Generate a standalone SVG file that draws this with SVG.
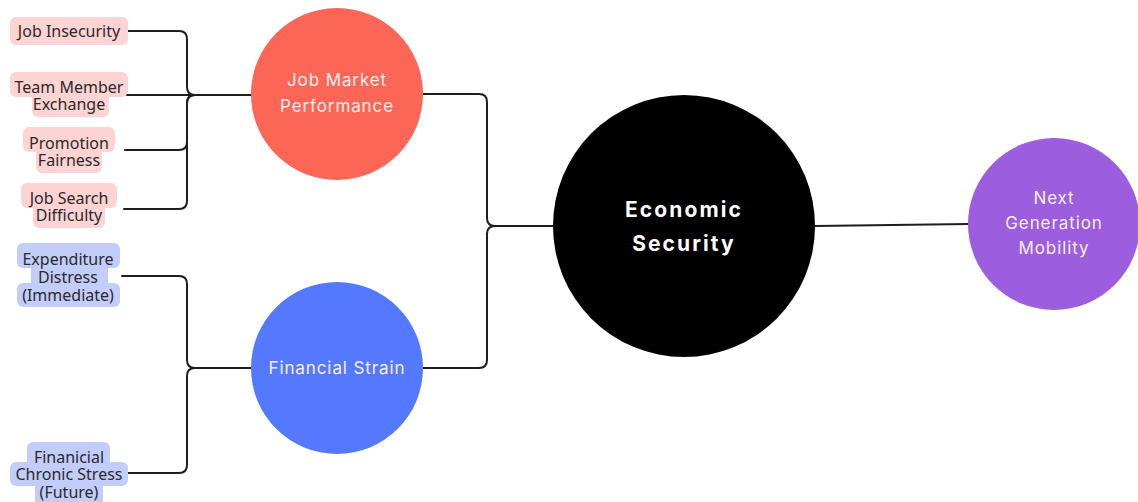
<svg xmlns="http://www.w3.org/2000/svg" width="1138" height="502" viewBox="0 0 1138 502">
  <style>
    .bg { fill: #ffffff; }
    .wire { fill: none; stroke: #1e1e1e; stroke-width: 2; stroke-linejoin: round; stroke-linecap: round; }
    .pink { fill: #fdd3d3; }
    .blue { fill: #c3cdfc; }
    .lbl { font-family: "Noto Sans", "Open Sans", sans-serif; font-size: 16px; fill: #2a2a2a; text-anchor: middle; dominant-baseline: central; }
    .hub { font-family: Inter, "Liberation Sans", sans-serif; fill: #f7efef; text-anchor: middle; dominant-baseline: central; }
    .mid { font-size: 17px; font-weight: 400; letter-spacing: 0.9px; }
    .core { font-size: 21px; font-weight: 700; letter-spacing: 2.1px; fill: #ffffff; }
  </style>
  <rect class="bg" x="0" y="0" width="1138" height="502"/>

  <g id="connectors">
    <!-- job market indicators into Job Market Performance -->
    <path class="wire" d="M128,31 H179 Q187,31 187,39 V87 Q187,95 195,95 H251"/>
    <path class="wire" d="M125,95 H251"/>
    <path class="wire" d="M125,150 H179 Q187,150 187,142 V103 Q187,95 195,95"/>
    <path class="wire" d="M124,209 H179 Q187,209 187,201 V103 Q187,95 195,95"/>
    <!-- strain indicators into Financial Strain -->
    <path class="wire" d="M122,276 H179 Q187,276 187,284 V360 Q187,368 195,368 H251"/>
    <path class="wire" d="M123,473 H179 Q187,473 187,465 V376 Q187,368 195,368"/>
    <!-- both factors into Economic Security -->
    <path class="wire" d="M423,94 H479 Q487,94 487,102 V218 Q487,226 495,226 H553"/>
    <path class="wire" d="M423,368 H479 Q487,368 487,360 V234 Q487,226 495,226"/>
    <!-- Economic Security to Next Generation Mobility -->
    <path class="wire" d="M815,226 L969,224"/>
  </g>

  <g id="job-insecurity">
    <rect class="pink" x="10" y="17" width="118" height="28" rx="6"/>
    <text class="lbl" x="69" y="31">Job Insecurity</text>
  </g>

  <g id="team-member-exchange">
    <rect class="pink" x="10" y="72" width="118" height="25" rx="6"/>
    <rect class="pink" x="32" y="91" width="77" height="26" rx="6"/>
    <text class="lbl"><tspan x="69" y="87">Team Member</tspan><tspan x="69" y="104">Exchange</tspan></text>
  </g>

  <g id="promotion-fairness">
    <rect class="pink" x="23" y="127" width="92" height="25" rx="6"/>
    <rect class="pink" x="36" y="147" width="66" height="26" rx="6"/>
    <text class="lbl"><tspan x="69" y="143">Promotion</tspan><tspan x="69" y="160">Fairness</tspan></text>
  </g>

  <g id="job-search-difficulty">
    <rect class="pink" x="21" y="183" width="96" height="25" rx="6"/>
    <rect class="pink" x="33" y="202" width="72" height="26" rx="6"/>
    <text class="lbl"><tspan x="69" y="198">Job Search</tspan><tspan x="69" y="215">Difficulty</tspan></text>
  </g>

  <g id="expenditure-distress">
    <rect class="blue" x="17" y="243" width="103" height="25" rx="6"/>
    <rect class="blue" x="31" y="264" width="77" height="24" rx="4"/>
    <rect class="blue" x="17" y="283" width="103" height="24" rx="6"/>
    <text class="lbl"><tspan x="68" y="259">Expenditure</tspan><tspan x="68" y="277">Distress</tspan><tspan x="68" y="295">(Immediate)</tspan></text>
  </g>

  <g id="chronic-stress">
    <rect class="blue" x="27" y="442" width="83" height="25" rx="6"/>
    <rect class="blue" x="10" y="462" width="118" height="24" rx="6"/>
    <rect class="blue" x="35" y="481" width="68" height="25" rx="6"/>
    <text class="lbl"><tspan x="69" y="457">Finanicial</tspan><tspan x="69" y="474">Chronic Stress</tspan><tspan x="69" y="492">(Future)</tspan></text>
  </g>

  <g id="job-market-performance">
    <circle cx="337" cy="94" r="86" fill="#fc6656"/>
    <text class="hub mid"><tspan x="337" y="80">Job Market</tspan><tspan x="337" y="106">Performance</tspan></text>
  </g>

  <g id="financial-strain">
    <circle cx="337" cy="368" r="86" fill="#5479fe"/>
    <text class="hub mid" x="337" y="368">Financial Strain</text>
  </g>

  <g id="economic-security">
    <circle cx="684" cy="226" r="131" fill="#000000"/>
    <text class="hub core"><tspan x="684" y="209">Economic</tspan><tspan x="684" y="243">Security</tspan></text>
  </g>

  <g id="next-generation-mobility">
    <circle cx="1054" cy="224" r="86" fill="#9d5ddf"/>
    <text class="hub mid"><tspan x="1054" y="198">Next</tspan><tspan x="1054" y="223">Generation</tspan><tspan x="1054" y="248">Mobility</tspan></text>
  </g>
</svg>
